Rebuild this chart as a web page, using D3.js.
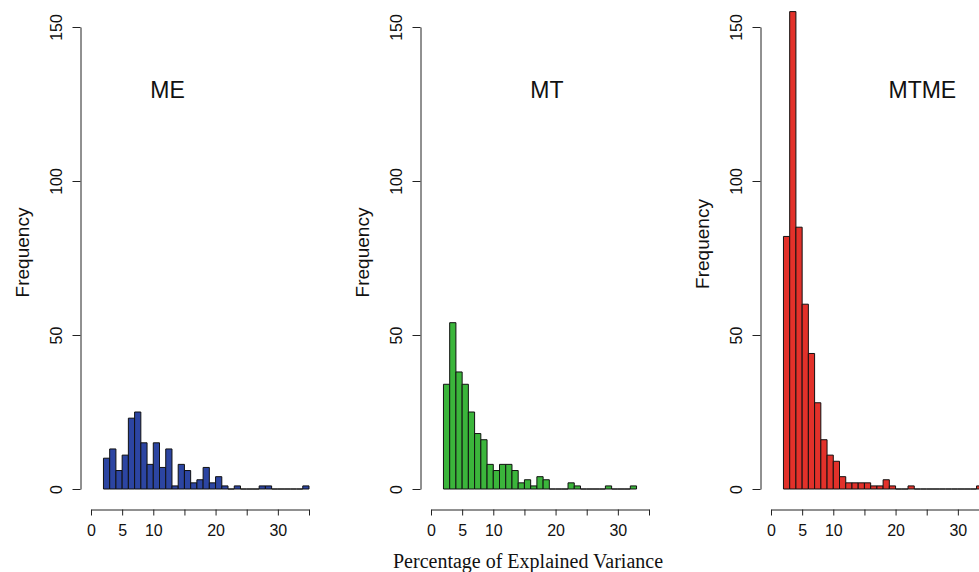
<!DOCTYPE html>
<html>
<head>
<meta charset="utf-8">
<script src="https://cdn.jsdelivr.net/npm/d3@7"></script>
<style>
  html, body { margin: 0; padding: 0; background: #fff; }
  svg { display: block; }
</style>
</head>
<body>
<svg id="chart" width="979" height="572"></svg>
<script>
// ---- Data ----
const panelNames = ["ME", "MT", "MTME"];
const breaks = [2,3,4,5,6,7,8,9,10,11,12,13,14,15,16,17,18,19,20,21,22,23,24,25,26,27,28,29,30,31,32,33,34,35];
const meCounts   = [10,13,6,11,23,25,15,8,15,7,13,1,8,6,2,3,7,2,4,1,0,1,0,0,0,1,1,0,0,0,0,0,1];
const mtCounts   = [34,54,38,34,25,18,16,8,6,8,8,6,2,3,1,4,3,0,0,0,2,1,0,0,0,0,1,0,0,0,1];
const mtmeCounts = [82,155,85,60,44,28,16,11,9,4,2,2,2,2,1,1,3,1,0,0,1,0,0,0,0,0,0,0,0,0,0,1];
const xTicks = [0,5,10,15,20,25,30,35];
const xTickLabels = ["0","5","10","","20","","30",""];
const yTicks = [0,50,100,150];
const yLabel = "Frequency";
const xTitle = "Percentage of Explained Variance";

// ---- Layout / style ----
const colors = ["#2C45A2", "#3BB53B", "#E2312A"];
const countsList = [meCounts, mtCounts, mtmeCounts];
const panelOffset = [0, 340, 680];
const labelPosX = [12.3, 18.6, 24.3];   // data-x of panel name
const freqCenterY = [252.5, 252.5, 244];

const svg = d3.select("#chart");
const y = d3.scaleLinear().domain([0, 150]).range([489, 27]);

panelNames.forEach((name, p) => {
  const off = panelOffset[p];
  const x = d3.scaleLinear().domain([0, 35]).range([91 + off, 309 + off]);
  const g = svg.append("g");
  const counts = countsList[p];
  const bins = counts.map((c, i) => ({x0: breaks[i], x1: breaks[i + 1], n: c}));

  g.selectAll("path.bar").data(bins).enter().append("path")
    .attr("class", "bar")
    .attr("d", d => {
      const pth = d3.path();
      pth.moveTo(x(d.x0), y(0));
      pth.lineTo(x(d.x0), y(d.n));
      pth.lineTo(x(d.x1), y(d.n));
      pth.lineTo(x(d.x1), y(0));
      pth.closePath();
      return pth.toString();
    })
    .attr("fill", colors[p])
    .attr("stroke", "#111")
    .attr("stroke-width", 1);

  // x axis
  const xa = g.append("g").attr("transform", "translate(0,509.5)")
    .call(d3.axisBottom(x).tickValues(xTicks)
      .tickFormat((d, i) => xTickLabels[i]).tickSize(6).tickSizeOuter(0).tickPadding(9));
  xa.selectAll("path, line").attr("stroke", "#222");
  xa.selectAll("text").attr("font-family", "'Liberation Sans', Arial, sans-serif")
    .attr("font-size", "16px").attr("fill", "#111");

  // y axis
  const ya = g.append("g").attr("transform", `translate(${80.5 + off},0)`)
    .call(d3.axisLeft(y).tickValues(yTicks).tickSize(8).tickSizeOuter(0));
  ya.selectAll("path, line").attr("stroke", "#222");
  ya.selectAll("text")
    .attr("font-family", "'Liberation Sans', Arial, sans-serif")
    .attr("font-size", "16px").attr("fill", "#111")
    .attr("transform", "rotate(-90)")
    .attr("x", 0).attr("y", -19).attr("dy", "0")
    .attr("text-anchor", "middle");

  // y label
  g.append("text")
    .attr("transform", `translate(${28.5 + off},${freqCenterY[p]}) rotate(-90)`)
    .attr("text-anchor", "middle")
    .attr("font-family", "'Liberation Sans', Arial, sans-serif")
    .attr("font-size", "19px").attr("fill", "#111")
    .text(yLabel);

  // panel name
  g.append("text")
    .attr("x", x(labelPosX[p])).attr("y", y(127))
    .attr("text-anchor", "middle")
    .attr("font-family", "'Liberation Sans', Arial, sans-serif")
    .attr("font-size", "23px").attr("fill", "#111")
    .text(name);
});

svg.append("text")
  .attr("x", 528).attr("y", 568)
  .attr("text-anchor", "middle")
  .attr("font-family", "'Liberation Serif', 'Times New Roman', serif")
  .attr("font-size", "20px").attr("fill", "#111")
  .text(xTitle);
</script>
</body>
</html>
